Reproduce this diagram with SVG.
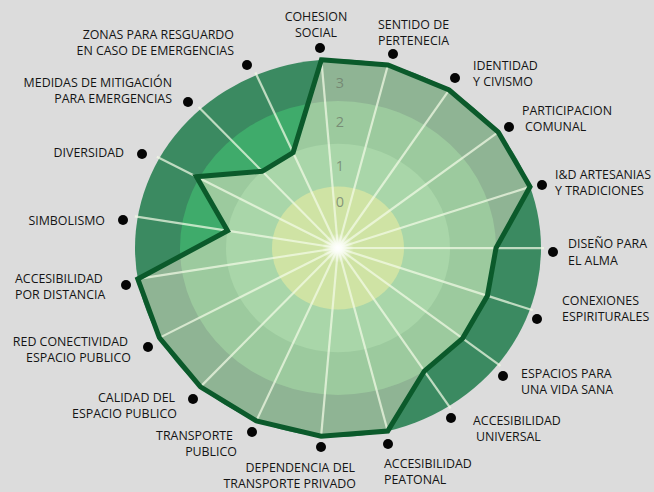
<svg xmlns="http://www.w3.org/2000/svg" width="654" height="492" viewBox="0 0 654 492">
<defs>
<style>
.lbl{font-family:"Open Sans","Liberation Sans",sans-serif;font-size:12.4px;fill:#141414}
.num{font-family:"Open Sans","Liberation Sans",sans-serif;font-size:14.5px;fill:#6d7a69;fill-opacity:0.75;text-anchor:middle}
.dot{fill:#050505}
.ax{stroke:#f2fbe6;stroke-width:2.2;stroke-opacity:0.72;vector-effect:non-scaling-stroke}
.r{text-anchor:end}
.m{text-anchor:middle}
</style>
<clipPath id="polyclip"><polygon points="-16.6,-202.3 49.96,-196.75 111.14,-169.87 160.27,-124.6 192.04,-65.79 158,0.09 149.4,51.38 124.63,97.12 86.35,132.3 49.71,196.81 -16.89,202.29 -81.65,185.85 -137.55,149.29 -178.58,96.55 -200.24,33.31 -110.47,-18.49 -141.55,-76.72 -75.8,-82.44 -44.93,-102.59"/></clipPath>
<radialGradient id="glow"><stop offset="0" stop-color="#ffffff" stop-opacity="1"/><stop offset="0.35" stop-color="#ffffff" stop-opacity="0.7"/><stop offset="1" stop-color="#ffffff" stop-opacity="0"/></radialGradient>
</defs>
<rect width="654" height="492" fill="#dcdcdc"/>
<g id="chart" transform="translate(338,248) scale(1,0.93)">
<circle r="203" fill="#3b8a61"/>
<circle r="158" fill="#3fab6b"/>
<circle r="112" fill="#48b070"/>
<g clip-path="url(#polyclip)">
<circle r="203" fill="#8fb494"/>
<circle r="158" fill="#9cca9e"/>
<circle r="112" fill="#a9d6a9"/>
<circle r="66" fill="#cfe3a4"/>
</g>
<g id="axes">
<line class="ax" x1="0" y1="0" x2="-16.87" y2="-205.3"/>
<line class="ax" x1="0" y1="0" x2="50.7" y2="-199.65"/>
<line class="ax" x1="0" y1="0" x2="112.79" y2="-172.38"/>
<line class="ax" x1="0" y1="0" x2="162.64" y2="-126.44"/>
<line class="ax" x1="0" y1="0" x2="194.88" y2="-66.76"/>
<line class="ax" x1="0" y1="0" x2="206" y2="0.12"/>
<line class="ax" x1="0" y1="0" x2="194.79" y2="66.99"/>
<line class="ax" x1="0" y1="0" x2="162.49" y2="126.63"/>
<line class="ax" x1="0" y1="0" x2="112.58" y2="172.53"/>
<line class="ax" x1="0" y1="0" x2="50.45" y2="199.72"/>
<line class="ax" x1="0" y1="0" x2="-17.14" y2="205.28"/>
<line class="ax" x1="0" y1="0" x2="-82.85" y2="188.59"/>
<line class="ax" x1="0" y1="0" x2="-139.59" y2="151.49"/>
<line class="ax" x1="0" y1="0" x2="-181.22" y2="97.97"/>
<line class="ax" x1="0" y1="0" x2="-203.2" y2="33.8"/>
<line class="ax" x1="0" y1="0" x2="-203.18" y2="-34.01"/>
<line class="ax" x1="0" y1="0" x2="-181.12" y2="-98.16"/>
<line class="ax" x1="0" y1="0" x2="-139.42" y2="-151.64"/>
<line class="ax" x1="0" y1="0" x2="-82.65" y2="-188.7"/>
</g>
<circle r="16" fill="url(#glow)"/>
<polygon id="values" fill="none" stroke="#0b5a2b" stroke-width="5" stroke-linejoin="miter" vector-effect="non-scaling-stroke" points="-16.6,-202.3 49.96,-196.75 111.14,-169.87 160.27,-124.6 192.04,-65.79 158,0.09 149.4,51.38 124.63,97.12 86.35,132.3 49.71,196.81 -16.89,202.29 -81.65,185.85 -137.55,149.29 -178.58,96.55 -200.24,33.31 -110.47,-18.49 -141.55,-76.72 -75.8,-82.44 -44.93,-102.59"/>
</g>
<g id="scale">
<text class="num" x="340" y="88">3</text>
<text class="num" x="340" y="127">2</text>
<text class="num" x="340" y="171">1</text>
<text class="num" x="340" y="207">0</text>
</g>
<g id="n-cohesion"><circle class="dot" cx="320" cy="48" r="5"/><text class="lbl m" x="316" y="21">COHESION</text><text class="lbl m" x="316" y="37">SOCIAL</text></g>
<g id="n-sentido"><circle class="dot" cx="393" cy="54" r="5"/><text class="lbl" x="378" y="29">SENTIDO DE</text><text class="lbl" x="378" y="45">PERTENECIA</text></g>
<g id="n-identidad"><circle class="dot" cx="455" cy="78" r="5"/><text class="lbl" x="473" y="70">IDENTIDAD</text><text class="lbl" x="473" y="86">Y CIVISMO</text></g>
<g id="n-participacion"><circle class="dot" cx="509" cy="127" r="5"/><text class="lbl" x="522" y="115">PARTICIPACION</text><text class="lbl" x="525" y="131">COMUNAL</text></g>
<g id="n-artesanias"><circle class="dot" cx="542" cy="185" r="5"/><text class="lbl" x="555" y="179">I&amp;D ARTESANIAS</text><text class="lbl" x="555" y="195">Y TRADICIONES</text></g>
<g id="n-diseno"><circle class="dot" cx="553" cy="252" r="5"/><text class="lbl" x="568" y="248">DISEÑO PARA</text><text class="lbl" x="568" y="265">EL ALMA</text></g>
<g id="n-conexiones"><circle class="dot" cx="537" cy="319" r="5"/><text class="lbl" x="562" y="305">CONEXIONES</text><text class="lbl" x="562" y="321">ESPIRITURALES</text></g>
<g id="n-espacios"><circle class="dot" cx="503" cy="376" r="5"/><text class="lbl" x="521" y="378">ESPACIOS PARA</text><text class="lbl" x="521" y="394">UNA VIDA SANA</text></g>
<g id="n-acc-universal"><circle class="dot" cx="451" cy="418" r="5"/><text class="lbl" x="473" y="425">ACCESIBILIDAD</text><text class="lbl" x="476" y="441">UNIVERSAL</text></g>
<g id="n-acc-peatonal"><circle class="dot" cx="388" cy="444" r="5"/><text class="lbl" x="384" y="468">ACCESIBILIDAD</text><text class="lbl" x="384" y="484">PEATONAL</text></g>
<g id="n-dependencia"><circle class="dot" cx="321" cy="447" r="5"/><text class="lbl r" x="355" y="472">DEPENDENCIA DEL</text><text class="lbl r" x="356" y="488">TRANSPORTE PRIVADO</text></g>
<g id="n-transporte"><circle class="dot" cx="252" cy="432" r="5"/><text class="lbl r" x="233" y="440">TRANSPORTE</text><text class="lbl r" x="237" y="456">PUBLICO</text></g>
<g id="n-calidad"><circle class="dot" cx="193" cy="399" r="5"/><text class="lbl r" x="175" y="402">CALIDAD DEL</text><text class="lbl r" x="177" y="418">ESPACIO PUBLICO</text></g>
<g id="n-red"><circle class="dot" cx="148" cy="347" r="5"/><text class="lbl r" x="128" y="346">RED CONECTIVIDAD</text><text class="lbl r" x="131" y="362">ESPACIO PUBLICO</text></g>
<g id="n-acc-distancia"><circle class="dot" cx="126" cy="285" r="5"/><text class="lbl" x="15" y="283">ACCESIBILIDAD</text><text class="lbl" x="15" y="299">POR DISTANCIA</text></g>
<g id="n-simbolismo"><circle class="dot" cx="123" cy="220" r="5"/><text class="lbl r" x="105" y="225">SIMBOLISMO</text></g>
<g id="n-diversidad"><circle class="dot" cx="142" cy="154" r="5"/><text class="lbl r" x="124" y="157">DIVERSIDAD</text></g>
<g id="n-medidas"><circle class="dot" cx="188" cy="102" r="5"/><text class="lbl r" x="172" y="87">MEDIDAS DE MITIGACIÓN</text><text class="lbl r" x="172" y="103">PARA EMERGENCIAS</text></g>
<g id="n-zonas"><circle class="dot" cx="247" cy="65" r="5"/><text class="lbl r" x="234" y="39">ZONAS PARA RESGUARDO</text><text class="lbl r" x="234" y="55">EN CASO DE EMERGENCIAS</text></g>
</svg>
